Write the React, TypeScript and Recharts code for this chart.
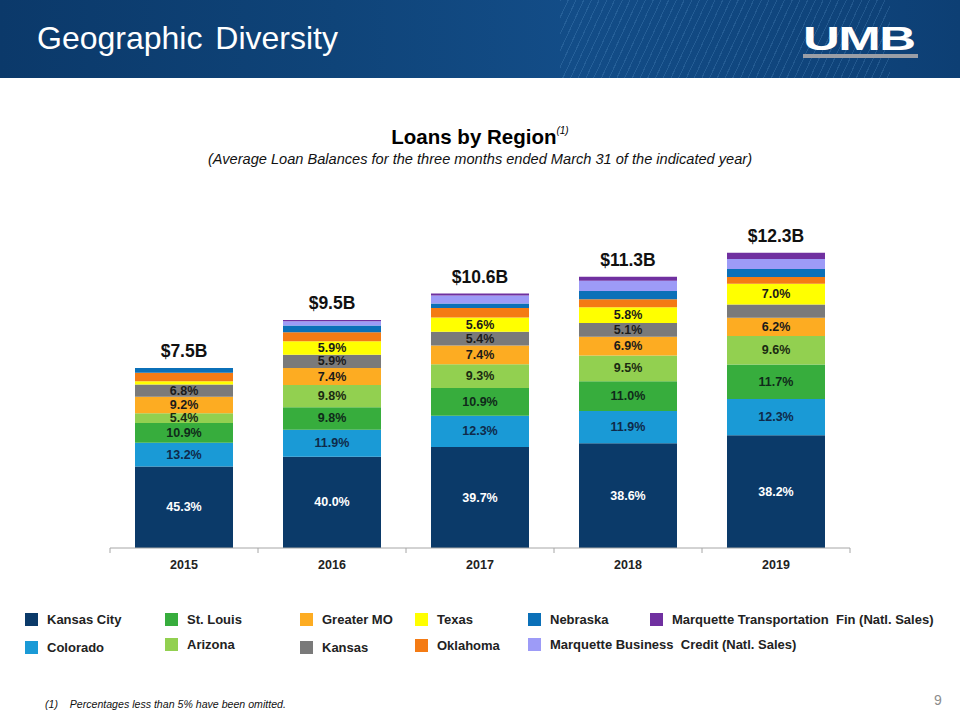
import React from 'react';
import { BarChart, Bar, XAxis, YAxis, LabelList } from 'recharts';

const years = ['2015', '2016', '2017', '2018', '2019'];
const totals = [7.5, 9.5, 10.6, 11.3, 12.3];

// share of total loans (%), bottom of stack first; small ones estimated from the bars
const kansasCity = [45.3, 40.0, 39.7, 38.6, 38.2];
const colorado = [13.2, 11.9, 12.3, 11.9, 12.3];
const stLouis = [10.9, 9.8, 10.9, 11.0, 11.7];
const arizona = [5.4, 9.8, 9.3, 9.5, 9.6];
const greaterMO = [9.2, 7.4, 7.4, 6.9, 6.2];
const kansas = [6.8, 5.9, 5.4, 5.1, 4.5];
const texas = [1.9, 5.9, 5.6, 5.8, 7.0];
const oklahoma = [4.6, 3.9, 3.7, 2.9, 2.3];
const nebraska = [2.7, 3.0, 1.8, 3.1, 2.7];
const marquetteBusiness = [0.0, 1.8, 3.2, 3.7, 3.4];
const marquetteTransport = [0.0, 0.6, 0.7, 1.5, 2.1];

const series = [
  { key: 'kc', name: 'Kansas City', color: '#0b3a69', pct: kansasCity, text: '#ffffff' },
  { key: 'co', name: 'Colorado', color: '#1a9ad6', pct: colorado, text: '#0f2a4a' },
  { key: 'stl', name: 'St. Louis', color: '#37ad3d', pct: stLouis, text: '#0f2a1a' },
  { key: 'az', name: 'Arizona', color: '#92d050', pct: arizona, text: '#1a2a10' },
  { key: 'gmo', name: 'Greater MO', color: '#fdac22', pct: greaterMO, text: '#1a1a1a' },
  { key: 'ks', name: 'Kansas', color: '#7a7a7a', pct: kansas, text: '#1a1a1a' },
  { key: 'tx', name: 'Texas', color: '#ffff00', pct: texas, text: '#1a1a1a' },
  { key: 'ok', name: 'Oklahoma', color: '#f47b14', pct: oklahoma, text: '#1a1a1a' },
  { key: 'ne', name: 'Nebraska', color: '#0b70b8', pct: nebraska, text: '#1a1a1a' },
  { key: 'mbc', name: 'Marquette Business  Credit (Natl. Sales)', color: '#9d9bf7', pct: marquetteBusiness, text: '#1a1a1a' },
  { key: 'mtf', name: 'Marquette Transportation  Fin (Natl. Sales)', color: '#7030a0', pct: marquetteTransport, text: '#1a1a1a' },
];

const data = years.map((year, i) => {
  const row: any = { year, total: totals[i], topKey: '' };
  series.forEach((s) => {
    row[s.key] = (s.pct[i] / 100) * totals[i];
    row[s.key + 'Pct'] = s.pct[i];
    if (s.pct[i] > 0) row.topKey = s.key; // top of the stack carries the $ total
  });
  return row;
});

// legend layout: [series key, x, y]
const legendSpots: [string, number, number][] = [
  ['kc', 25, 620], ['stl', 165, 620], ['gmo', 300, 620], ['tx', 415, 620], ['ne', 528, 620], ['mtf', 650, 620],
  ['co', 25, 648], ['az', 165, 645], ['ks', 300, 648], ['ok', 415, 646], ['mbc', 528, 645],
];

const font = '"Liberation Sans", Arial, sans-serif';

const PctLabel = (color: string) => (props: any) => {
  const { x, y, width, height, value } = props;
  if (value == null || value < 5) return null;
  return (
    <text x={x + width / 2} y={y + height / 2} dy={4} textAnchor="middle"
      fontSize={12.5} fontWeight="bold" fontFamily={font} fill={color}>
      {value.toFixed(1)}%
    </text>
  );
};

const TotalLabel = (props: any) => {
  const { x, y, width, value } = props;
  if (value == null) return null;
  return (
    <text x={x + width / 2} y={y - 11} textAnchor="middle"
      fontSize={17.5} fontWeight="bold" fontFamily={font} fill="#111">
      ${Number(value).toFixed(1)}B
    </text>
  );
};

const YearTick = (props: any) => {
  const { x, y, payload, index } = props;
  const band = 148;
  return (
    <g>
      <line x1={x - band / 2} y1={y - 8} x2={x - band / 2} y2={y - 3} stroke="#a6a6a6" />
      {index === years.length - 1 && (
        <line x1={x + band / 2} y1={y - 8} x2={x + band / 2} y2={y - 3} stroke="#a6a6a6" />
      )}
      <text x={x} y={y + 13} textAnchor="middle" fontSize={12.5} fontWeight="bold" fontFamily={font} fill="#222">
        {payload.value}
      </text>
    </g>
  );
};

const App = () => {
  return (
    <div style={{ position: 'absolute', left: 0, top: 0, width: 960, height: 720, background: '#fff', fontFamily: font, overflow: 'hidden' }}>
      {/* header band */}
      <div style={{
        position: 'absolute', left: 0, top: 0, width: 960, height: 78,
        background: 'linear-gradient(90deg, #0b396a 0%, #0f4479 35%, #134d88 60%, #0d3f74 100%)',
      }}>
        <div style={{
          position: 'absolute', left: 560, top: 0, width: 330, height: 78,
          background: 'repeating-linear-gradient(115deg, rgba(120,180,230,0.18) 0px, rgba(120,180,230,0.18) 1px, transparent 1px, transparent 7px)',
        }} />
        <div style={{ position: 'absolute', left: 37, top: 20, color: '#fff', fontSize: 32, wordSpacing: 4, fontFamily: font }}>
          Geographic Diversity
        </div>
        <div style={{
          position: 'absolute', left: 803, top: 19, color: '#fff', fontSize: 34, fontWeight: 900,
          fontFamily: font, transform: 'scaleX(1.5)', transformOrigin: 'left top', letterSpacing: -1, lineHeight: '38px',
        }}>
          UMB
        </div>
        <div style={{ position: 'absolute', left: 803, top: 54, width: 115, height: 4, background: '#9a9ea6' }} />
      </div>

      {/* titles */}
      <div style={{ position: 'absolute', left: 0, top: 125, width: 960, textAlign: 'center', fontSize: 20.5, fontWeight: 'bold', color: '#000' }}>
        Loans by Region
        <span style={{ position: 'relative', top: -10, fontSize: 10, fontWeight: 'normal', fontStyle: 'italic' }}>(1)</span>
      </div>
      <div style={{ position: 'absolute', left: 0, top: 151, width: 960, textAlign: 'center', fontSize: 14.6, fontStyle: 'italic', color: '#111' }}>
        (Average Loan Balances for the three months ended March 31 of the indicated year)
      </div>

      <div style={{ position: 'absolute', left: 0, top: 0 }}>
        <BarChart width={960} height={720} data={data}
          margin={{ top: 212, right: 110, bottom: 142, left: 110 }} barSize={98}>
          <XAxis dataKey="year" height={30} tickLine={false} axisLine={{ stroke: '#a6a6a6' }} tick={<YearTick />} interval={0} />
          <YAxis hide domain={[0, 14]} />
          {series.map((s) => (
            <Bar key={s.key} dataKey={s.key} stackId="loans" fill={s.color} isAnimationActive={false}>
              <LabelList dataKey={s.key + 'Pct'} content={PctLabel(s.text)} />
              <LabelList dataKey={(row: any) => (row.topKey === s.key ? row.total : null)} content={TotalLabel} />
            </Bar>
          ))}
        </BarChart>
      </div>

      {/* legend */}
      {legendSpots.map(([key, x, y]) => {
        const s = series.find((d) => d.key === key)!;
        return (
          <div key={key} style={{ position: 'absolute', left: x, top: y - 8, display: 'flex', alignItems: 'center' }}>
            <div style={{ width: 13, height: 13, background: s.color }} />
            <span style={{ marginLeft: 9, fontSize: 13, fontWeight: 'bold', color: '#222', whiteSpace: 'pre' }}>{s.name}</span>
          </div>
        );
      })}

      {/* footnote and page number */}
      <div style={{ position: 'absolute', left: 45, top: 698, fontSize: 10.6, fontStyle: 'italic', color: '#111', whiteSpace: 'pre' }}>
        {'(1)    Percentages less than 5% have been omitted.'}
      </div>
      <div style={{ position: 'absolute', left: 934, top: 692, fontSize: 14, color: '#8c8c8c' }}>9</div>
    </div>
  );
};

export default App;
